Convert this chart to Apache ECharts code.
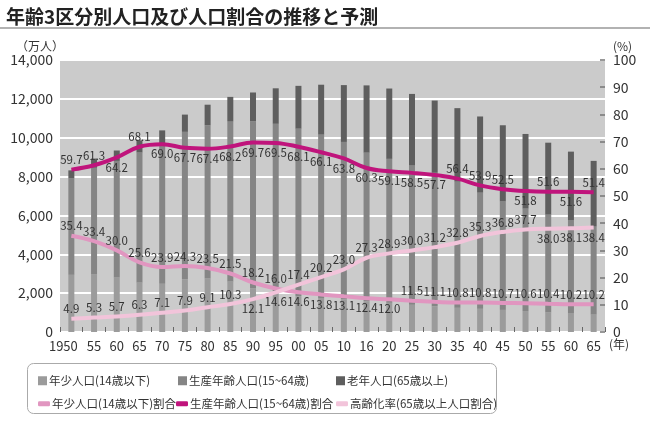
<!DOCTYPE html>
<html><head><meta charset="utf-8">
<script src="https://cdn.jsdelivr.net/npm/echarts@6/dist/echarts.min.js"></script>
<style>html,body{margin:0;padding:0;background:#fff}#c{width:650px;height:438px}</style>
</head><body><div id="c"></div>
<script>
const years = ['1950','55','60','65','70','75','80','85','90','95','00','05','10','16','20','25','30','35','40','45','50','55','60','65'];
const young = [2943,2980,2807,2553,2482,2722,2751,2603,2249,2001,1847,1752,1680,1578,1507,1407,1321,1246,1194,1138,1077,1012,951,898];
const working = [4966,5473,6000,6693,7157,7581,7883,8251,8590,8716,8622,8409,8103,7656,7406,7170,6875,6494,5978,5584,5275,5028,4793,4529];
const elderly = [411,475,535,618,739,887,1065,1247,1489,1826,2201,2567,2925,3459,3619,3677,3716,3782,3921,3919,3841,3704,3540,3381];
const youngRate = [35.4,33.4,30.0,25.6,23.9,24.3,23.5,21.5,18.2,16.0,14.6,13.8,13.1,12.4,12.0,11.5,11.1,10.8,10.8,10.7,10.6,10.4,10.2,10.2];
const workingRate = [59.7,61.3,64.2,68.1,69.0,67.7,67.4,68.2,69.7,69.5,68.1,66.1,63.8,60.3,59.1,58.5,57.7,56.4,53.9,52.5,51.8,51.6,51.6,51.4];
const elderlyRate = [4.9,5.3,5.7,6.3,7.1,7.9,9.1,10.3,12.1,14.6,17.4,20.2,23.0,27.3,28.9,30.0,31.2,32.8,35.3,36.8,37.7,38.0,38.1,38.4];
const leftTicks = [0,2000,4000,6000,8000,10000,12000,14000];
const rightTicks = [0,10,20,30,40,50,60,70,80,90,100];

// label placement (style): t = above, b = below
const youngPos = 'ttttttttttbbbbbttttttttt'.split('');
const workingPos = 'ttbtbbbbbbbbbbbbbtttbtbt'.split('');
const elderlyPos = 'ttttttttbbtttttttttttbbb'.split('');

const names = ['年少人口(14歳以下)','生産年齢人口(15~64歳)','老年人口(65歳以上)','年少人口(14歳以下)割合','生産年齢人口(15~64歳)割合','高齢化率(65歳以上人口割合)'];
const colors = ['#9b9b9b','#858585','#5e5e5e','#e196c0','#c0147c','#f2c4da'];
const FONT = '"Noto Sans CJK JP","Noto Sans",sans-serif';

function lbl(vals, pos) {
  return vals.map((v, i) => ({ value: v, label: { show: true, position: pos[i] === 't' ? 'top' : 'bottom' } }));
}
function barSeries(i, data) {
  return { name: names[i], type: 'bar', stack: 'pop', data: data, barWidth: 6, itemStyle: { color: colors[i] }, z: 2 };
}
function lineSeries(i, data, pos) {
  return {
    name: names[i], type: 'line', yAxisIndex: 1, smooth: 0.4, symbol: 'circle', symbolSize: 0.01, showSymbol: true, z: 5,
    data: lbl(data, pos),
    lineStyle: { color: colors[i], width: 4 }, itemStyle: { color: colors[i] },
    label: { show: true, formatter: p => Number(p.value).toFixed(1), fontSize: 11.5, color: '#333', distance: 4, fontFamily: FONT },
    labelLayout: { hideOverlap: false }
  };
}
function legendItem(i, left, top, icon, w, h) {
  return {
    data: [{ name: names[i], icon: icon }], left: left, top: top, itemWidth: w, itemHeight: h, itemGap: 0,
    textStyle: { fontSize: 11.5, color: '#333', fontFamily: FONT, padding: [0, 0, 0, -3] }, selectedMode: false
  };
}

const chart = echarts.init(document.getElementById('c'));
chart.setOption({
  animation: false,
  textStyle: { fontFamily: FONT },
  title: { text: '年齢3区分別人口及び人口割合の推移と予測', left: 1, top: 2,
    textStyle: { fontSize: 19, fontWeight: 'bold', color: '#222', fontFamily: FONT } },
  grid: { left: 60, right: 45, top: 60, height: 272, show: true, backgroundColor: '#cbcbcb', borderWidth: 0 },
  legend: [
    legendItem(0, 33, 370, 'rect', 9, 9),
    legendItem(1, 173, 370, 'rect', 9, 9),
    legendItem(2, 331, 370, 'rect', 9, 9),
    legendItem(3, 33, 393, 'roundRect', 12, 5),
    legendItem(4, 171, 393, 'roundRect', 12, 5),
    legendItem(5, 331, 393, 'roundRect', 12, 5)
  ],
  xAxis: {
    type: 'category', data: years, boundaryGap: true,
    axisLine: { show: false },
    axisTick: { show: true, inside: true, length: 5, lineStyle: { color: '#666', width: 1 } },
    axisLabel: { fontSize: 13, color: '#333', margin: 8, interval: 0,
      formatter: v => v === '1950' ? '{a|1950}' : v,
      rich: { a: { fontSize: 13, color: '#333', padding: [0, 16, 0, 0] } } }
  },
  yAxis: [
    { type: 'value', min: leftTicks[0], max: leftTicks[leftTicks.length - 1], interval: 2000,
      name: '（万人）', nameLocation: 'end', nameGap: 8,
      nameTextStyle: { fontSize: 12, color: '#333', align: 'right', padding: [0, -4, 0, 0] },
      axisLine: { show: false }, axisTick: { show: false },
      axisLabel: { fontSize: 14, color: '#333', margin: 7, formatter: v => v.toLocaleString('en-US') },
      splitLine: { show: true, lineStyle: { color: '#ffffff', width: 2 } } },
    { type: 'value', min: rightTicks[0], max: rightTicks[rightTicks.length - 1], interval: 10, position: 'right',
      name: '(%)', nameLocation: 'end', nameGap: 8,
      nameTextStyle: { fontSize: 12, color: '#333', align: 'left', padding: [0, 0, 0, 8] },
      axisLine: { show: false },
      axisTick: { show: true, inside: true, length: 5, lineStyle: { color: '#777', width: 1.5 } },
      axisLabel: { fontSize: 14, color: '#333', margin: 8 },
      splitLine: { show: false } }
  ],
  graphic: [
    { type: 'line', shape: { x1: 0, y1: 28, x2: 650, y2: 28 }, style: { stroke: '#999', lineWidth: 1.5 } },
    { type: 'rect', shape: { x: 27.5, y: 363.5, width: 469, height: 50, r: 6 }, style: { fill: 'none', stroke: '#aaa', lineWidth: 1 } },
    { type: 'text', left: 609, top: 338, style: { text: '(年)', fontSize: 12, fill: '#333', fontFamily: FONT } }
  ],
  series: [
    barSeries(0, young),
    barSeries(1, working),
    barSeries(2, elderly),
    lineSeries(3, youngRate, youngPos),
    lineSeries(4, workingRate, workingPos),
    lineSeries(5, elderlyRate, elderlyPos)
  ]
});
</script></body></html>
